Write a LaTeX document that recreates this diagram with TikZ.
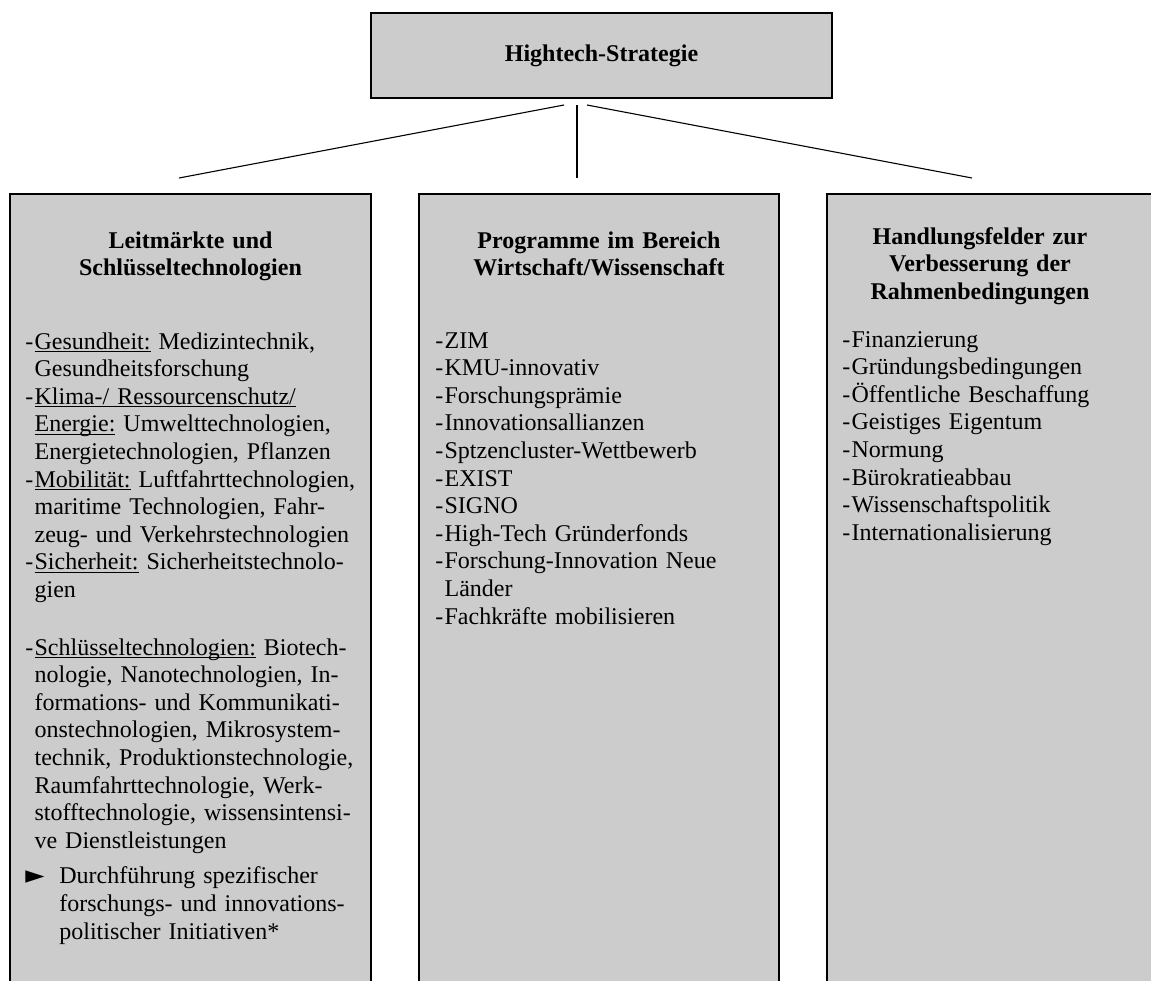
\documentclass[tikz,border=0pt]{standalone}
\usepackage{fontspec}
\setmainfont{Liberation Serif}
\newfontfamily\symfont{DejaVu Sans}
\usetikzlibrary{positioning,calc}

% list items with hanging indent
\newcommand{\pitem}[1]{\noindent\hangindent=4.6pt\hangafter=1\makebox[4.6pt][l]{-}#1\par}
\newcommand{\aitem}[1]{\noindent\hangindent=17pt\hangafter=1\makebox[17pt][l]{\symfont\fontsize{12.5}{12}\selectfont ►}#1\par}
% underline close to the baseline
\newcommand{\ul}[1]{\setbox0\hbox{#1}\rlap{\rule[-1.6pt]{\wd0}{0.55pt}}\box0\relax}

\begin{document}
\begin{tikzpicture}[x=0.5pt, y=-0.5pt,
		box/.style={draw=black, line width=0.7pt, fill=black!20, inner sep=0pt, outer sep=0pt},
		conn/.style={line width=0.55pt},
		head/.style={inner sep=0pt, text width=#1, align=center, font=\fontsize{12}{13.8}\selectfont\bfseries},
		body/.style={inner sep=0pt, text width=#1, align=left, font=\fontsize{12}{13.8}\selectfont}]

		\useasboundingbox (0,0) rectangle (1151,980);
		\clip (0,0) rectangle (1151,980);

		% Strategie
		\node[box, anchor=north west, minimum width=230.5pt, minimum height=42.5pt, font=\fontsize{12}{13.8}\selectfont\bfseries] (strategie) at (371,13) {Hightech-Strategie};

		% Saeulen
		\node[box, anchor=north west, minimum width=180.5pt, minimum height=410pt] (leitmaerkte) at (10,194) {};
		\node[box, anchor=north west, minimum width=180pt, minimum height=410pt] (programme) at (419,194) {};
		\node[box, anchor=north west, minimum width=175pt, minimum height=410pt] (handlungsfelder) at (827,194) {};

		% Verbindungen
		\coordinate (sl) at ($(strategie.south)+(-37.5,7)$);
		\coordinate (sm) at ($(strategie.south)+(-24.5,7)$);
		\coordinate (sr) at ($(strategie.south)+(-14.5,7)$);
		\coordinate (el) at (179,178);
		\coordinate (em) at (577,178);
		\coordinate (er) at (972,178);

		\draw [conn] (sl) -- (el);
		\draw [conn] (sm) -- (em);
		\draw [conn] (sr) -- (er);

		% Ueberschriften
		\node[head=170pt, anchor=base] (leitkopf) at (190.5,248) {Leitmärkte und\\ Schlüsseltechnologien};
		\node[head=170pt, anchor=base] (progkopf) at (599,248) {Programme im Bereich\\ Wirtschaft/Wissenschaft};
		\node[head=165pt, anchor=base] (handkopf) at (980,244) {Handlungsfelder zur\\ Verbesserung der\\ Rahmenbedingungen};

		% Listen
		\node[body=180pt, anchor=base west] (leitliste) at (25,349) {%
			\pitem{\ul{Gesundheit:} Medizintechnik,\newline Gesundheitsforschung}
			\pitem{\ul{Klima-/ Ressourcenschutz/}\newline \ul{Energie:} Umwelttechnologien,\newline Energietechnologien, Pflanzen}
			\pitem{\ul{Mobilität:} Luftfahrttechnologien,\newline maritime Technologien, Fahr-\newline zeug- und Verkehrstechnologien}
			\pitem{\ul{Sicherheit:} Sicherheitstechnolo-\newline gien}
			\vspace{15pt}
			\pitem{\ul{Schlüsseltechnologien:} Biotech-\newline nologie, Nanotechnologien, In-\newline formations- und Kommunikati-\newline onstechnologien, Mikrosystem-\newline technik, Produktionstechnologie,\newline Raumfahrttechnologie, Werk-\newline stofftechnologie, wissensintensi-\newline ve Dienstleistungen}
			\vspace{4pt}
			\aitem{Durchführung spezifischer\newline forschungs- und innovations-\newline politischer Initiativen*}};

		\node[body=170pt, anchor=base west] (progliste) at (435,348) {%
			\pitem{ZIM}
			\pitem{KMU-innovativ}
			\pitem{Forschungsprämie}
			\pitem{Innovationsallianzen}
			\pitem{Sptzencluster-Wettbewerb}
			\pitem{EXIST}
			\pitem{SIGNO}
			\pitem{High-Tech Gründerfonds}
			\pitem{Forschung-Innovation Neue\newline Länder}
			\pitem{Fachkräfte mobilisieren}};

		\node[body=150pt, anchor=base west] (handliste) at (842,347) {%
			\pitem{Finanzierung}
			\pitem{Gründungsbedingungen}
			\pitem{Öffentliche Beschaffung}
			\pitem{Geistiges Eigentum}
			\pitem{Normung}
			\pitem{Bürokratieabbau}
			\pitem{Wissenschaftspolitik}
			\pitem{Internationalisierung}};

	\end{tikzpicture}
\end{document}
